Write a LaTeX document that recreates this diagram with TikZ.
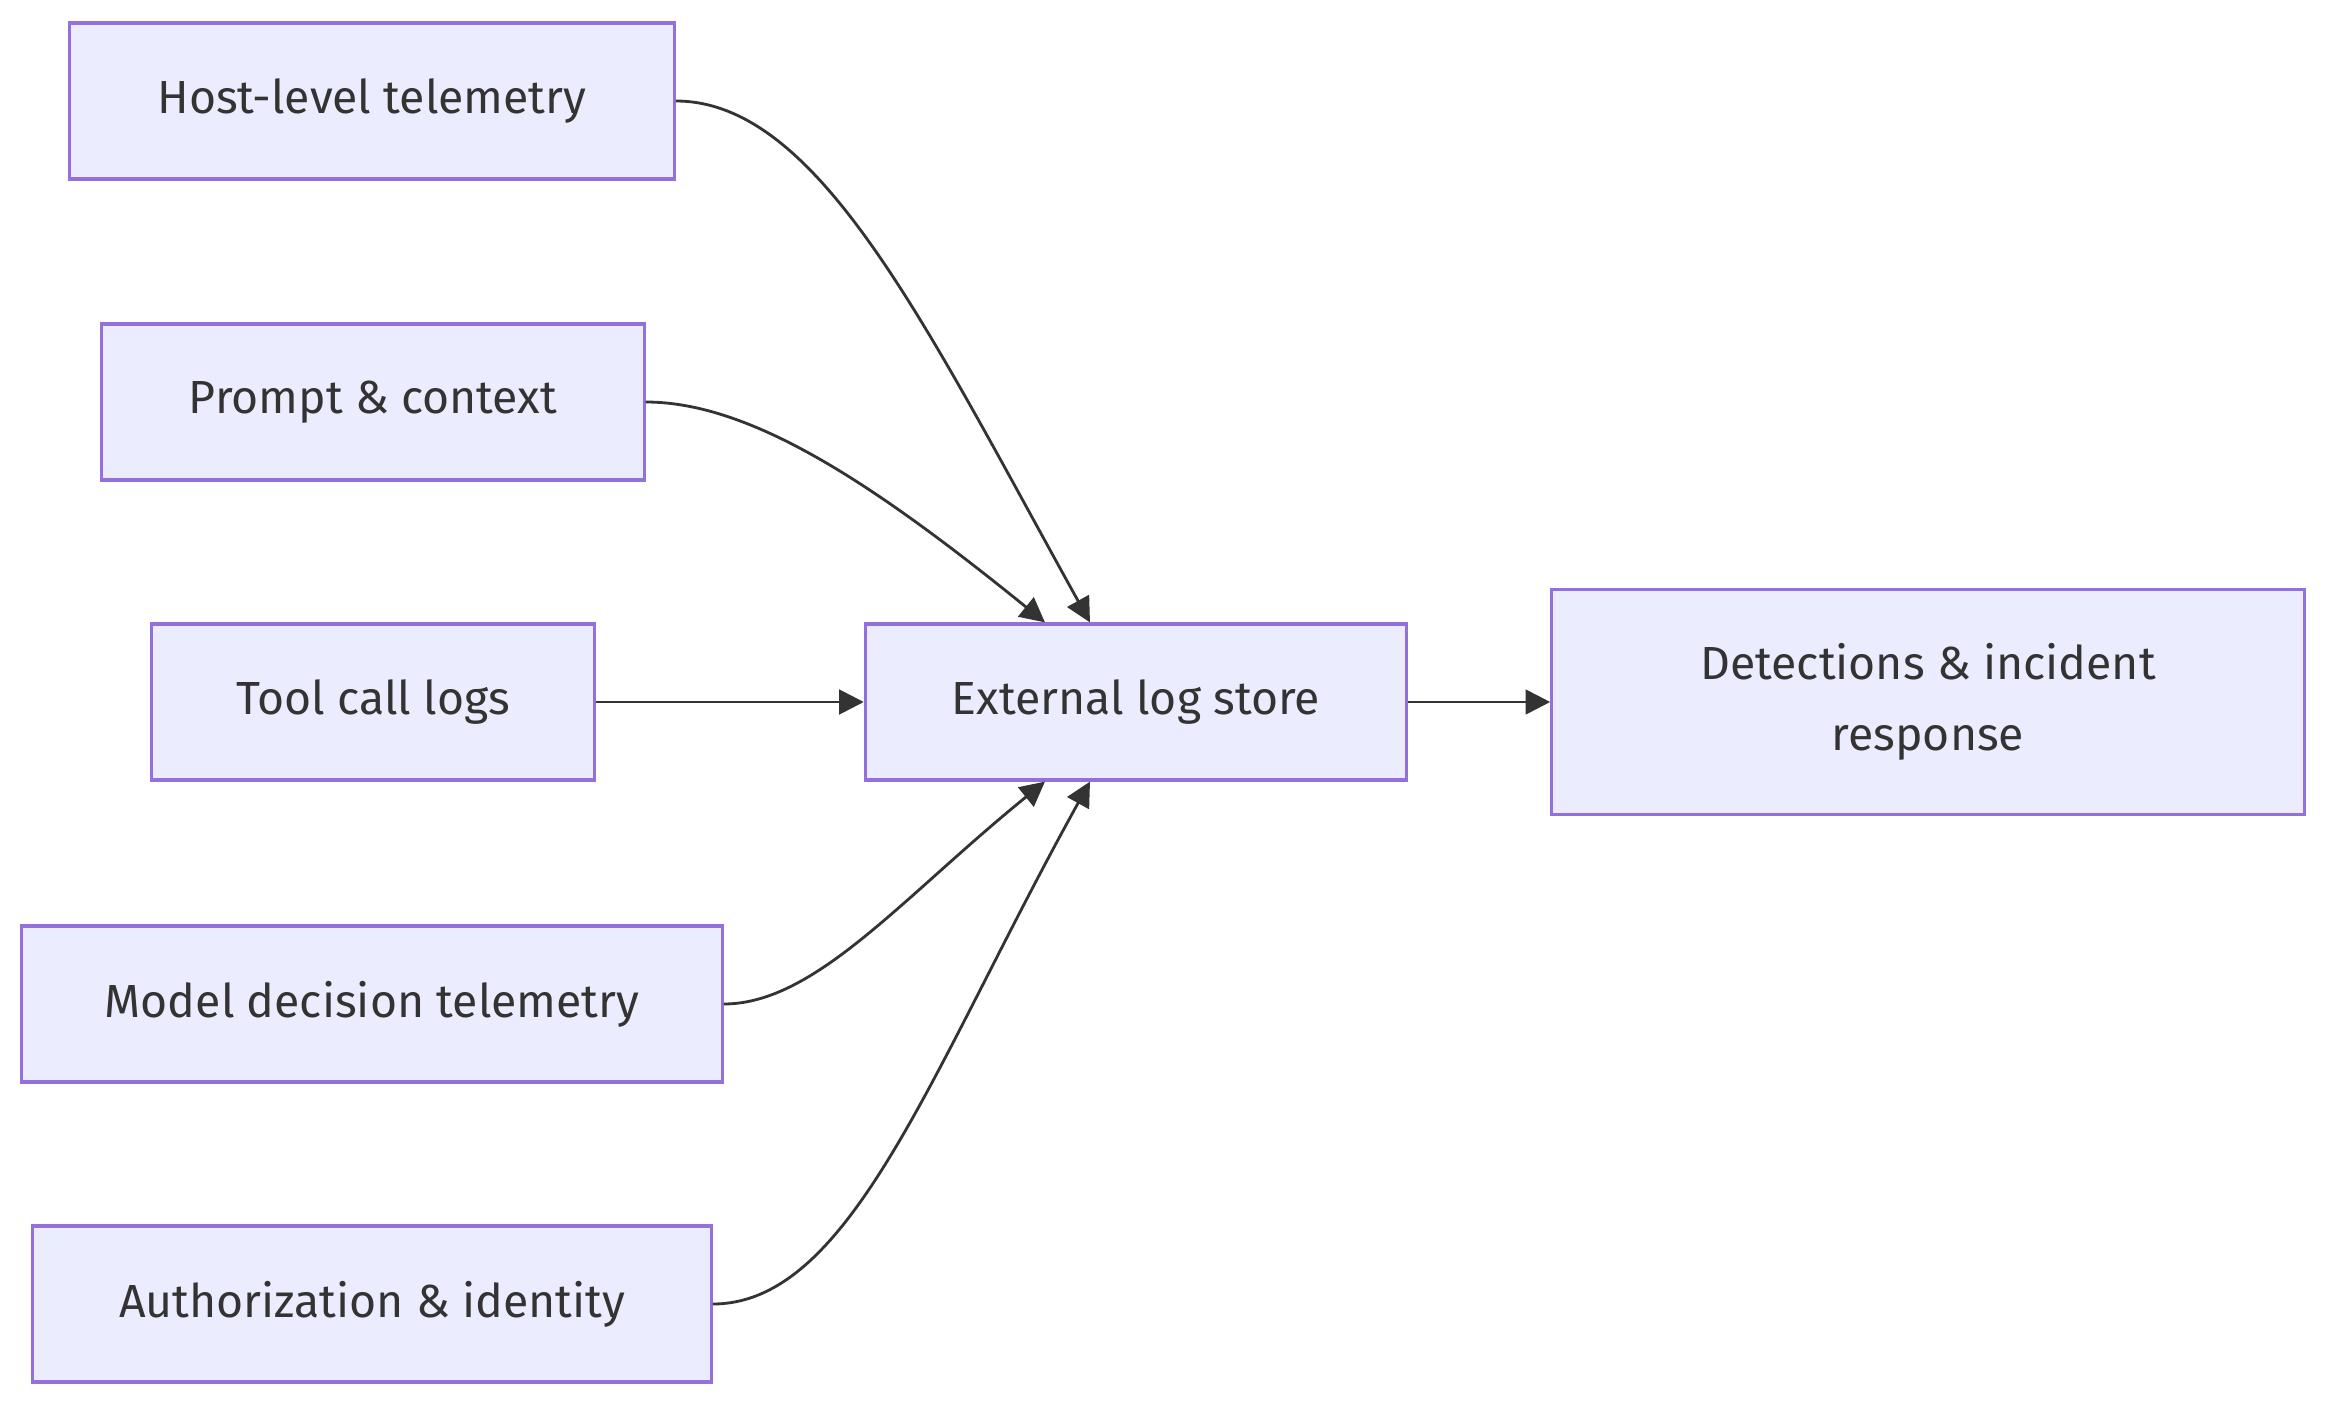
\documentclass[tikz,border=0pt]{standalone}
\usepackage{fontspec}
\setmainfont{Fira Sans}
\usepackage{tikz}
\usetikzlibrary{arrows.meta}
\usetikzlibrary{positioning}
\definecolor{boxfill}{HTML}{ECECFF}
\definecolor{boxline}{HTML}{9370DB}
\definecolor{ink}{HTML}{333333}

\begin{document}
\begin{tikzpicture}[x=0.01cm,y=-0.01cm,
		box/.style={draw=boxline,fill=boxfill,line width=0.9pt,text=ink,
			minimum height=1.56cm,inner sep=0pt,font=\fontsize{13.2}{20}\selectfont},
		flow/.style={draw=ink,line width=0.8pt,-{Triangle[length=7pt,width=7pt]}}]
		\useasboundingbox (0,0) rectangle (2352,1422);
		% sources
		\node[box,minimum width=6.04cm] (host) at (372,101) {Host-level telemetry};
		\node[box,minimum width=5.42cm] (prompt) at (373,402) {Prompt \& context};
		\node[box,minimum width=4.42cm] (tool) at (373,702) {Tool call logs};
		\node[box,minimum width=7.00cm] (model) at (372,1004) {Model decision telemetry};
		\node[box,minimum width=6.78cm] (auth) at (372,1304) {Authorization \& identity};
		% store and response
		\node[box,minimum width=5.41cm] (store) at (1136,702) {External log store};
		\node[box,minimum width=7.52cm,minimum height=2.25cm,align=center] (resp) at (1928,702)
			{Detections \& incident\\response};
		% edges
		\draw[flow] (host.east) to[out=0,in=119,out looseness=0.55,in looseness=1.3] ([xshift=-0.46cm]store.north);
		\draw[flow] (prompt.east) to[out=0,in=141,out looseness=0.6,in looseness=1.2] ([xshift=-0.91cm]store.north);
		\draw[flow] (tool.east) -- (store.west);
		\draw[flow] (model.east) to[out=0,in=-141,out looseness=0.6,in looseness=1.2] ([xshift=-0.91cm]store.south);
		\draw[flow] (auth.east) to[out=0,in=-119,out looseness=0.55,in looseness=1.3] ([xshift=-0.46cm]store.south);
		\draw[flow] (store.east) -- (resp.west);
	\end{tikzpicture}
\end{document}
